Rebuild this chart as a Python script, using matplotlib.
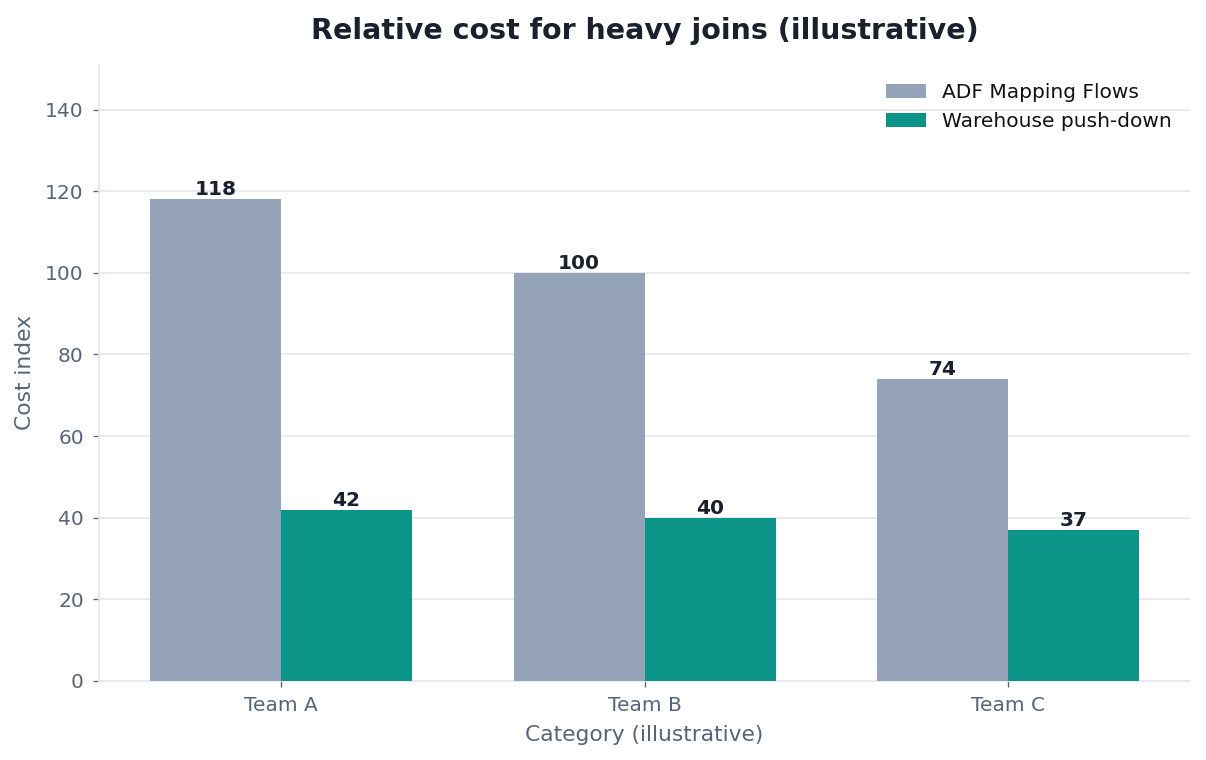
import numpy as np
import matplotlib
matplotlib.use("Agg")
import matplotlib.pyplot as plt

plt.rcParams["font.family"] = ["DejaVu Sans"]

categories = ["Team A", "Team B", "Team C"]
adf_values = [118, 100, 74]
warehouse_values = [42, 40, 37]
series_names = ["ADF Mapping Flows", "Warehouse push-down"]

text_dark = "#1a202c"
text_muted = "#5a6478"
grid_col = "#e5e8ef"

DPI = 120.6
fig, ax = plt.subplots(figsize=(1206 / DPI, 760 / DPI), dpi=DPI)
fig.subplots_adjust(left=0.082, right=0.987, top=0.915, bottom=0.104)

x = np.arange(len(categories))
w = 0.36
b1 = ax.bar(x - w / 2, adf_values, w, color="#94a3b8", label=series_names[0], zorder=3)
b2 = ax.bar(x + w / 2, warehouse_values, w, color="#0d9488", label=series_names[1], zorder=3)

for bars in (b1, b2):
    for rect in bars:
        ax.annotate(f"{rect.get_height():.0f}",
                    (rect.get_x() + rect.get_width() / 2, rect.get_height()),
                    xytext=(0, 0), textcoords="offset points",
                    ha="center", va="bottom", fontsize=12, fontweight="bold",
                    color=text_dark)

ax.set_xlim(-0.5, 2.5)
ax.set_ylim(0, 151)
ax.set_yticks(range(0, 141, 20))
ax.set_xticks(x)
ax.set_xticklabels(categories)

ax.set_title("Relative cost for heavy joins (illustrative)", fontsize=17,
             fontweight="bold", color=text_dark, pad=15.5)
ax.set_xlabel("Category (illustrative)", fontsize=13, color=text_muted, labelpad=6)
ax.set_ylabel("Cost index", fontsize=13, color=text_muted, labelpad=6)

ax.grid(axis="y", color=grid_col, linewidth=1.0, zorder=0)
ax.set_axisbelow(True)
for s in ("top", "right"):
    ax.spines[s].set_visible(False)
for s in ("left", "bottom"):
    ax.spines[s].set_color(grid_col)
    ax.spines[s].set_linewidth(1.0)
ax.tick_params(axis="both", colors=text_muted, labelsize=12, pad=5.5)

ax.legend(frameon=False, fontsize=12, loc="upper right", labelcolor="#111111")

fig.savefig("out.png", dpi=DPI)
